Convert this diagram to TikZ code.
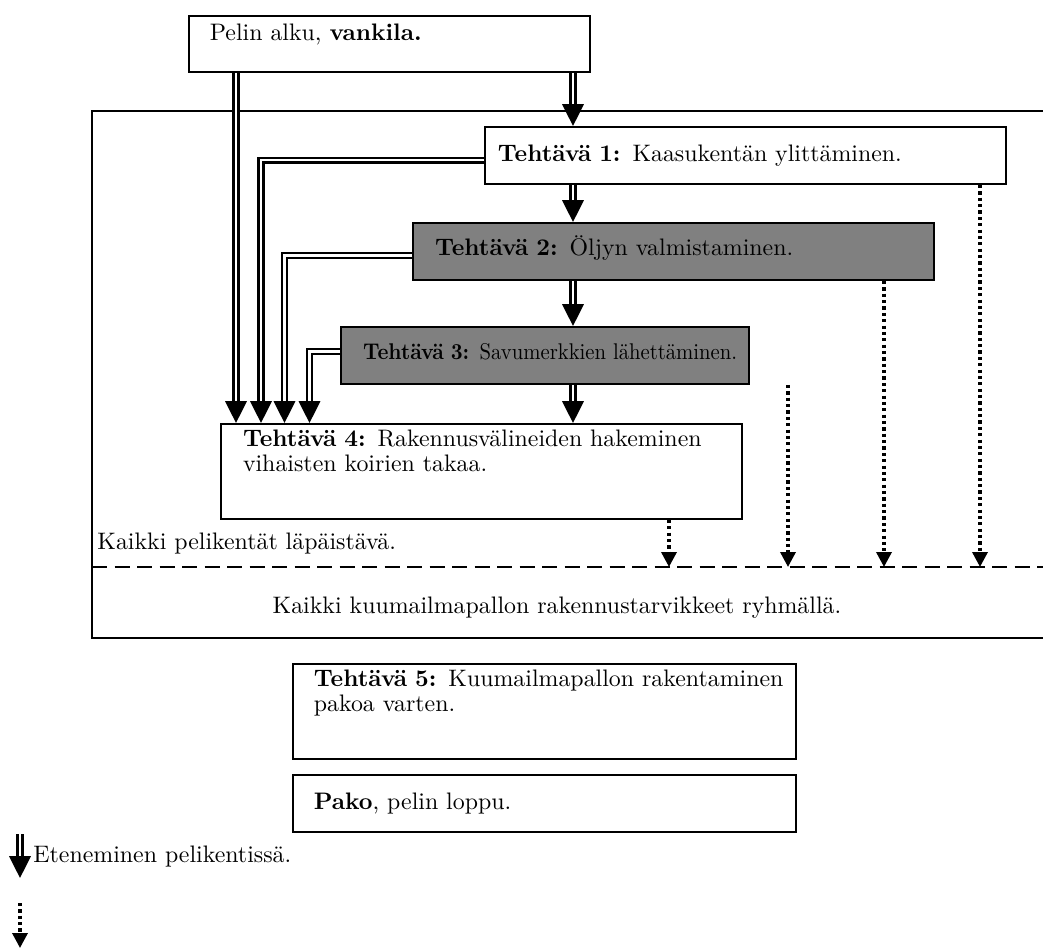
\documentclass[tikz,border=0pt]{standalone}
\usepackage{graphicx}
\usetikzlibrary{arrows.meta}
\begin{document}
\begin{tikzpicture}[x=0.44pt,y=-0.44pt,font=\fontsize{10.5}{11}\selectfont,
  task/.style={draw,line width=0.85pt,anchor=north west,align=left,inner ysep=0pt},
  done/.style={task,fill=gray},
  flow/.style={double,line width=1pt,double distance=1.1pt,-{Triangle[width=9.4pt,length=9.6pt]}},
  skip/.style={line width=1.5pt,dash pattern=on 1.4pt off 1.4pt,-{Triangle[width=6.6pt,length=6.6pt]}},
  note/.style={anchor=base west,inner sep=0pt}]
	\useasboundingbox (0,0) rectangle (1043,949);
	\draw [line width=0.85pt] (1060,111) -- (92,111) -- (92,638) -- (1060,638);
	\draw [line width=0.85pt,dash pattern=on 6.6pt off 3.3pt] (92,567) -- (1060,567);
	\node (pelin) [task,inner xsep=9.2pt,text width=158pt,text height=11pt,text depth=13.6pt] at (188,15) {Pelin alku, \textbf{vankila.}};
	\node (t1) [task,inner xsep=5.7pt,text width=217.8pt,text height=15pt,text depth=10.1pt] at (484,126) {\textbf{Tehtävä 1:} Kaasukentän ylittäminen.};
	\node (t2) [done,inner xsep=9.7pt,text width=209.8pt,text height=14.1pt,text depth=11pt] at (412,222) {\textbf{Tehtävä 2:} Öljyn valmistaminen.};
	\node (t3) [done,inner xsep=9.7pt,text width=160.1pt,text height=14.1pt,text depth=11pt,font=\fontsize{10}{11}\selectfont] at (340,326) {\scalebox{0.91}[1]{\textbf{Tehtävä 3:} Savumerkkien lähettäminen.}};
	\node (t4) [task,inner xsep=9.7pt,text width=209.8pt,text height=9.7pt,text depth=32.1pt] at (220,423) {\textbf{Tehtävä 4:} Rakennusvälineiden hakeminen\\vihaisten koirien takaa.};
	\node (t5) [task,inner xsep=9.2pt,text width=202.9pt,text height=9.7pt,text depth=32.1pt] at (292,663) {\mbox{\textbf{Tehtävä 5:} Kuumailmapallon rakentaminen}\\pakoa varten.};
	\node (pako) [task,inner xsep=9.2pt,text width=202.9pt,text height=15pt,text depth=10.1pt] at (292,774) {\textbf{Pako}, pelin loppu.};
	\node (cleared) [note] at (97,550) {Kaikki pelikentät läpäistävä.};
	\node (gathered) [note,anchor=base] at (557,613) {Kaikki kuumailmapallon rakennustarvikkeet ryhmällä.};
	\node (legend) [note] at (33,862) {Eteneminen pelikentissä.};
	\coordinate (spine) at (573,0);
	\coordinate (c1) at (236,0);
	\coordinate (c2) at (261,0);
	\coordinate (c3) at (284.5,0);
	\coordinate (c4) at (309.5,0);
	\coordinate (d1) at (980,0);
	\coordinate (d2) at (884,0);
	\coordinate (d3) at (788,0);
	\coordinate (d4) at (669,0);
	\coordinate (goal) at (0,567);
	\coordinate (flowtop) at (20,834);
	\coordinate (flowend) at (20,878);
	\coordinate (skiptop) at (20,903);
	\coordinate (skipend) at (20,948);
	\draw [flow] (pelin.south -| spine) -- (t1.north -| spine);
	\draw [flow] (t1.south -| spine) -- (t2.north -| spine);
	\draw [flow] (t2.south -| spine) -- (t3.north -| spine);
	\draw [flow] (t3.south -| spine) -- (t4.north -| spine);
	\draw [flow] (pelin.south -| c1) -- (t4.north -| c1);
	\draw [flow] ([yshift=-2pt]t1.west) -| (t4.north -| c2);
	\draw [flow] ([yshift=-1.8pt]t2.west) -| (t4.north -| c3);
	\draw [flow] ([yshift=1.8pt]t3.west) -| (t4.north -| c4);
	\draw [skip] (t1.south -| d1) -- (goal -| d1);
	\draw [skip] (t2.south -| d2) -- (goal -| d2);
	\draw [skip] (t3.south -| d3) -- (goal -| d3);
	\draw [skip] (t4.south -| d4) -- (goal -| d4);
	\draw [flow] (flowtop) -- (flowend);
	\draw [skip] (skiptop) -- (skipend);
\end{tikzpicture}
\end{document}
